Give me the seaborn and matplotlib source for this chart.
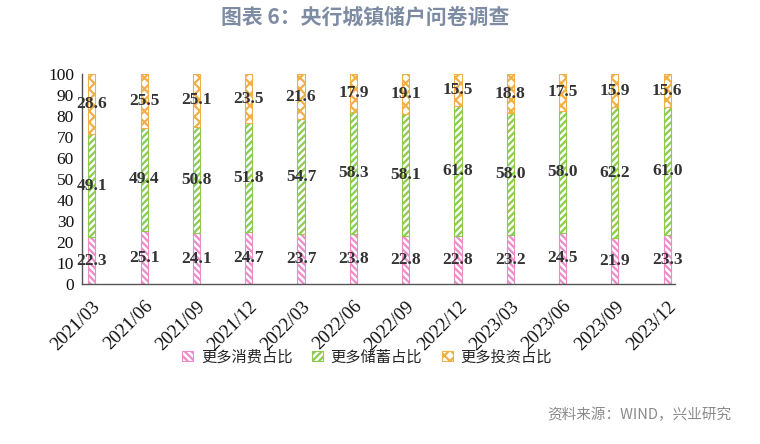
import numpy as np
import pandas as pd
import matplotlib
matplotlib.use('Agg')
import matplotlib.pyplot as plt
import seaborn as sns
from matplotlib.patches import Patch

# data
dates = ['2021/03', '2021/06', '2021/09', '2021/12', '2022/03', '2022/06',
         '2022/09', '2022/12', '2023/03', '2023/06', '2023/09', '2023/12']
consume = [22.3, 25.1, 24.1, 24.7, 23.7, 23.8, 22.8, 22.8, 23.2, 24.5, 21.9, 23.3]
save = [49.1, 49.4, 50.8, 51.8, 54.7, 58.3, 58.1, 61.8, 58.0, 58.0, 62.2, 61.0]
invest = [28.6, 25.5, 25.1, 23.5, 21.6, 17.9, 19.1, 15.5, 18.8, 17.5, 15.9, 15.6]
series_names = ['更多消费占比', '更多储蓄占比', '更多投资占比']

colors = ['#ec8cc8', '#8ccb4e', '#f0b048']
hatches = ['\\\\\\\\\\', '/////', 'xxx']

sns.set_style("white")
plt.rcParams['hatch.linewidth'] = 1.6

fig = plt.figure(figsize=(7.6, 4.44), dpi=100)
ax = fig.add_axes([0.1083, 0.3604, 0.780, 0.473])

bottoms = np.zeros(len(dates))
for vals, col, h in zip([consume, save, invest], colors, hatches):
    sns.barplot(x=dates, y=vals, bottom=bottoms, color='white', width=0.135,
                edgecolor=col, linewidth=0.8, hatch=h, ax=ax, saturation=1)
    bottoms = bottoms + np.array(vals)

for cont in ax.containers:
    ax.bar_label(cont, fmt='%.1f', label_type='center', fontsize=12.5,
                 fontweight='bold', color='#333333', family='Liberation Serif')

ax.set_ylim(0, 100)
ax.set_yticks(range(0, 101, 10))
ax.set_xlim(-0.18, 11.15)
# tick marks between categories, labels at the bars
ax.set_xticks(np.arange(len(dates)) - 0.18, minor=True)
ax.set_xticks(np.arange(len(dates)))
ax.set_xticklabels(dates, rotation=45, ha='right', va='top', rotation_mode='anchor')
ax.tick_params(axis='x', which='major', length=0, pad=10)
ax.tick_params(axis='x', which='minor', length=5, width=1, color='#555555', direction='out')
ax.tick_params(axis='y', length=4, width=1, color='#555555', direction='out', pad=2)
for lab in ax.get_xticklabels() + ax.get_yticklabels():
    lab.set_family('Liberation Serif')
    lab.set_color('#111111')
for lab in ax.get_xticklabels():
    lab.set_fontsize(13.5)
for lab in ax.get_yticklabels():
    lab.set_fontsize(12.5)
ax.set_xlabel('')
ax.set_ylabel('')
sns.despine(ax=ax)
for s in ['left', 'bottom']:
    ax.spines[s].set_color('#555555')
    ax.spines[s].set_linewidth(1)
ax.grid(False)

handles = [Patch(facecolor='white', edgecolor=c, hatch=h, linewidth=0.8, label=n)
           for c, h, n in zip(colors, hatches, series_names)]
fig.legend(handles=handles, loc='center', bbox_to_anchor=(0.483, 0.196), ncol=3,
           frameon=False, handlelength=0.7, handleheight=0.7, handletextpad=0.5,
           columnspacing=1.3, prop={'family': 'Noto Sans CJK SC', 'size': 11})

fig.text(0.481, 0.962, '图表 6：央行城镇储户问卷调查', ha='center', va='center',
         fontsize=15, fontweight='bold', color='#7d8ca3', family='Noto Sans CJK SC')
fig.text(0.963, 0.065, '资料来源：WIND，兴业研究', ha='right', va='center',
         fontsize=10.5, color='#8a8a8a', family='Noto Sans CJK SC')

fig.savefig('out.png', dpi=100)
